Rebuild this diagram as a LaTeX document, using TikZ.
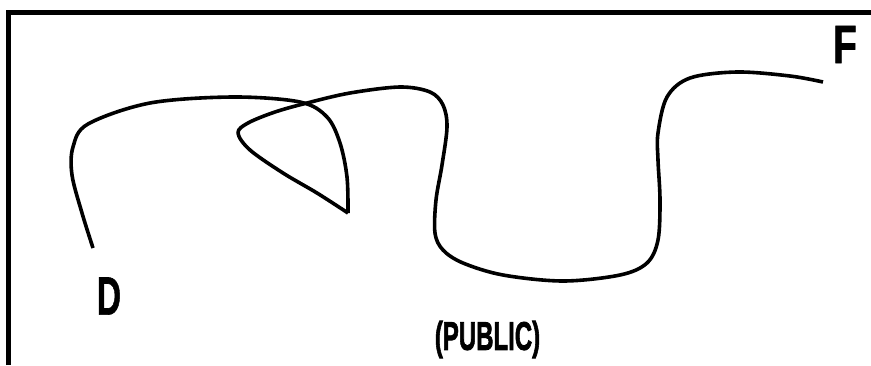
\documentclass[tikz,border=0pt]{standalone}
\usepackage{fontspec}
\setmainfont{Liberation Sans}
\newfontfamily\lblfont{Liberation Sans Bold}[FakeBold=1.2]
\newfontfamily\pubfont{Liberation Sans Bold}[FakeBold=2.2]
\tikzset{
  frameline/.style={line width=5pt, line cap=butt, line join=miter},
  route/.style={line width=3.6pt, line cap=butt, line join=round},
  lbl/.style={inner sep=0pt}
}
\begin{document}
\begin{tikzpicture}[x=1pt, y=-1pt]
\useasboundingbox (0,0) rectangle (871,365);
% frame (top and left only)
\coordinate (fbl) at (8.5,365);
\coordinate (ftl) at (8.5,12.5);
\coordinate (ftr) at (871,12.5);
\draw[frameline] (fbl) -- (ftl) -- (ftr);
% route
\coordinate (start) at (93,248);
\coordinate (corner) at (348,213);
\coordinate (finish) at (823,82);
\draw[route] plot[smooth, tension=0.55] coordinates {
  (93,248) (82,213) (72,175) (73,147) (88,124) (150,103) (233,97) (300,102)
  (327,117) (340,143) (347,177) (348,213)};
\draw[route] plot[smooth, tension=0.55] coordinates {
  (348,213) (317,193) (283,173) (250,150) (238,133) (248,123) (275,112) (307,103)
  (350,93) (400,87) (430,92) (443,105) (447,127) (442,165) (436,200) (435,233)
  (443,250) (463,263) (503,275) (563,281) (620,275) (647,263) (658,240) (660,200)
  (658,160) (658,133) (667,97) (690,78) (737,72) (790,76) (823,82)};
% labels
\node[lbl, font=\fontsize{54}{54}\lblfont] (F) at (845,44.5) {\scalebox{0.72}[1]{F}};
\node[lbl, font=\fontsize{54}{54}\lblfont] (D) at (109,296) {\scalebox{0.62}[1]{D}};
\node[lbl, font=\fontsize{40}{40}\pubfont] (P) at (487.5,339.5) {\scalebox{0.6}[1]{(PUBLIC)}};
\end{tikzpicture}
\end{document}
